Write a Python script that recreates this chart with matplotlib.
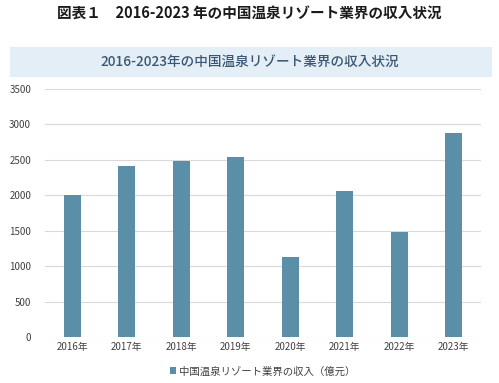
import matplotlib
matplotlib.use("Agg")
import matplotlib.pyplot as plt
from matplotlib.patches import Rectangle

plt.rcParams['font.family'] = ['Noto Sans CJK JP', 'DejaVu Sans']

years = ["2016年", "2017年", "2018年", "2019年", "2020年", "2021年", "2022年", "2023年"]
revenue = [2000, 2420, 2490, 2540, 1125, 2060, 1480, 2880]
yticks = [0, 500, 1000, 1500, 2000, 2500, 3000, 3500]

barColor = "#5b8fa8"

fig = plt.figure(figsize=(4.99, 3.83), dpi=100)

# page title
fig.text(0.5, 1 - 13 / 383, "図表１　2016-2023 年の中国温泉リゾート業界の収入状況",
         ha="center", va="center", fontsize=10.5, fontweight="bold", color="#1a1a1a")

# banner
fig.patches.append(Rectangle((10 / 499, 1 - 77 / 383), 482 / 499, 30 / 383,
                             transform=fig.transFigure, facecolor="#e3eef7",
                             edgecolor="none", zorder=0))
fig.text(0.5, 1 - 62 / 383, "2016-2023年の中国温泉リゾート業界の収入状況",
         ha="center", va="center", fontsize=9.8, fontweight="medium", color="#3b5670")

ax = fig.add_axes([45 / 499, 1 - 337 / 383, 436 / 499, 248 / 383])
x = range(len(years))
ax.bar(x, revenue, width=0.31, color=barColor, zorder=3,
       label="中国温泉リゾート業界の収入（億元）")

ax.set_xlim(-0.5, len(years) - 0.5)
ax.set_ylim(0, 3500)
ax.set_yticks(yticks)
ax.set_xticks(list(x))
ax.set_xticklabels(years)
ax.yaxis.grid(True, color="#d9d9d9", linewidth=0.8, zorder=0)
for s in ax.spines.values():
    s.set_visible(False)
ax.tick_params(axis="both", length=0, labelsize=7, colors="#404040")
ax.tick_params(axis="y", pad=10)

ax.legend(loc="upper center", bbox_to_anchor=(0.5, -0.08), frameon=False,
          fontsize=7.5, handlelength=0.6, handleheight=0.6, handletextpad=0.3,
          labelcolor="#404040")

fig.savefig("out.png", dpi=100)
